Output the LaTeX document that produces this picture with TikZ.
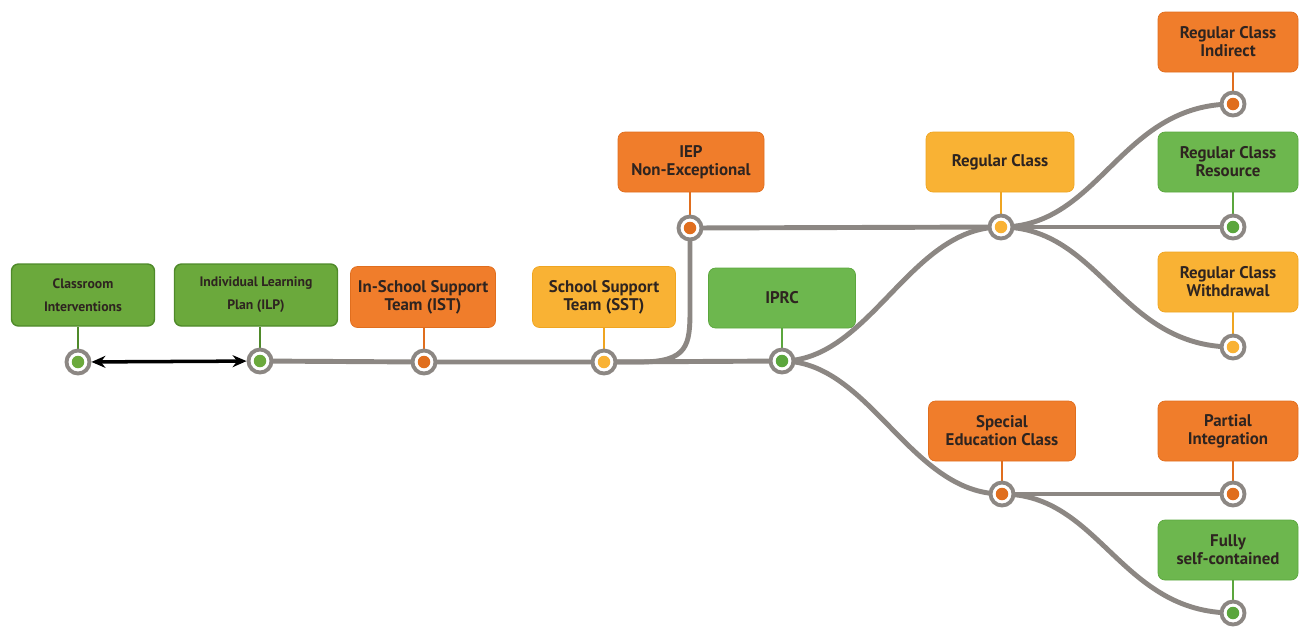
\documentclass[tikz,border=0pt]{standalone}
\usepackage{fontspec}
\setmainfont{PT Sans}
\usetikzlibrary{arrows.meta,backgrounds}
\definecolor{orng}{HTML}{F07D2B}
\definecolor{orngD}{HTML}{E06E1E}
\definecolor{yell}{HTML}{F9B234}
\definecolor{yellD}{HTML}{EFA521}
\definecolor{grn}{HTML}{6DB74E}
\definecolor{grnD}{HTML}{5BA63D}
\definecolor{grnA}{HTML}{6BA93C}
\definecolor{grnAD}{HTML}{4F8A2A}
\definecolor{track}{HTML}{8C8783}
\definecolor{txt}{HTML}{2E2420}
\tikzset{
  box/.style={rounded corners=0.14cm, text=txt, align=center, inner sep=0pt,
    font=\bfseries\fontsize{9.6}{10.2}\selectfont},
  smallbox/.style={box, fill=grnA, draw=grnAD, line width=0.8pt,
    font=\bfseries\fontsize{7.8}{13}\selectfont},
  obox/.style={box, fill=orng, draw=orngD, line width=0.4pt},
  ybox/.style={box, fill=yell, draw=yellD, line width=0.4pt},
  gbox/.style={box, fill=grn, draw=grnD, line width=0.4pt},
  ring/.style={circle, draw=track, line width=2.2pt, fill=white, minimum size=0.46cm, inner sep=0pt},
  dotin/.style={circle, minimum size=0.25cm, inner sep=0pt},
  trk/.style={draw=track, line width=2.8pt},
  stem/.style={line width=1.1pt},
}
\begin{document}
\begin{tikzpicture}[x=0.02cm, y=-0.02cm]
\useasboundingbox (0,0) rectangle (1300,627);
% boxes
\node[smallbox, minimum width=143*0.02cm, minimum height=62*0.02cm] (CI) at (83,295) {Classroom\\Interventions};
\node[smallbox, minimum width=163*0.02cm, minimum height=62*0.02cm] (ILP) at (256,295) {Individual Learning\\Plan (ILP)};
\node[obox, minimum width=145*0.02cm, minimum height=61*0.02cm] (IST) at (423,297) {In-School Support\\Team (IST)};
\node[ybox, minimum width=143*0.02cm, minimum height=61*0.02cm] (SST) at (604,297) {School Support\\Team (SST)};
\node[obox, minimum width=146*0.02cm, minimum height=60*0.02cm] (IEP) at (691,162) {IEP\\Non-Exceptional};
\node[gbox, minimum width=147*0.02cm, minimum height=60*0.02cm] (IPRC) at (782,298) {IPRC};
\node[ybox, minimum width=148*0.02cm, minimum height=60*0.02cm] (RC) at (1000,162) {Regular Class};
\node[obox, minimum width=140*0.02cm, minimum height=60*0.02cm] (RCI) at (1228,42) {Regular Class\\Indirect};
\node[gbox, minimum width=140*0.02cm, minimum height=60*0.02cm] (RCR) at (1228,162) {Regular Class\\Resource};
\node[ybox, minimum width=140*0.02cm, minimum height=60*0.02cm] (RCW) at (1228,282) {Regular Class\\Withdrawal};
\node[obox, minimum width=147*0.02cm, minimum height=60*0.02cm] (SEC) at (1002,431) {Special\\Education Class};
\node[obox, minimum width=140*0.02cm, minimum height=60*0.02cm] (PI) at (1228,431) {Partial\\Integration};
\node[gbox, minimum width=140*0.02cm, minimum height=60*0.02cm] (FSC) at (1228,550) {Fully\\self-contained};
% positions of stations
\coordinate (pCI) at (78,362);
\coordinate (pILP) at (260,361);
\coordinate (pIST) at (424,362);
\coordinate (pSST) at (604,362);
\coordinate (pIEP) at (690,228);
\coordinate (pIPRC) at (782,361);
\coordinate (pRC) at (1001,227);
\coordinate (pRCI) at (1233,104);
\coordinate (pRCR) at (1233,227);
\coordinate (pRCW) at (1233,347);
\coordinate (pSEC) at (1002,494);
\coordinate (pPI) at (1233,494);
\coordinate (pFSC) at (1233,613);
% tracks
\draw[trk] (pILP) -- (pIST) -- (pSST) -- (pIPRC);
\draw[trk] (pSST) -- (640,362) .. controls (688,362) and (690,345) .. (690,310) -- (pIEP);
\draw[trk] (pIEP) -- (pRC);
\draw[trk] (pIPRC) .. controls (870,361) and (910,227) .. (pRC);
\draw[trk] (pIPRC) .. controls (870,361) and (910,494) .. (pSEC);
\draw[trk] (pRC) .. controls (1100,227) and (1120,104) .. (pRCI);
\draw[trk] (pRC) -- (pRCR);
\draw[trk] (pRC) .. controls (1100,227) and (1120,347) .. (pRCW);
\draw[trk] (pSEC) -- (pPI);
\draw[trk] (pSEC) .. controls (1100,494) and (1120,613) .. (pFSC);
% stems
\draw[stem, grnAD] (pCI) -- (pCI |- CI.south);
\draw[stem, grnAD] (pILP) -- (pILP |- ILP.south);
\draw[stem, orngD] (pIST) -- (pIST |- IST.south);
\draw[stem, yellD] (pSST) -- (pSST |- SST.south);
\draw[stem, orngD] (pIEP) -- (pIEP |- IEP.south);
\draw[stem, grnD] (pIPRC) -- (pIPRC |- IPRC.south);
\draw[stem, yellD] (pRC) -- (pRC |- RC.south);
\draw[stem, orngD] (pRCI) -- (pRCI |- RCI.south);
\draw[stem, grnD] (pRCR) -- (pRCR |- RCR.south);
\draw[stem, yellD] (pRCW) -- (pRCW |- RCW.south);
\draw[stem, orngD] (pSEC) -- (pSEC |- SEC.south);
\draw[stem, orngD] (pPI) -- (pPI |- PI.south);
\draw[stem, grnD] (pFSC) -- (pFSC |- FSC.south);
% rings
\foreach \n/\c in {CI/grnA, ILP/grnA, IST/orngD, SST/yell, IEP/orngD, IPRC/grnD,
  RC/yell, RCI/orngD, RCR/grnD, RCW/yell, SEC/orngD, PI/orngD, FSC/grnD}{
  \node[ring] (r\n) at (p\n) {};
  \node[dotin, fill=\c] (i\n) at (p\n) {};
}
% arrow
\draw[line width=2pt, {Stealth[length=0.28cm,width=0.24cm]}-{Stealth[length=0.28cm,width=0.24cm]}] (rCI) -- (rILP);
\end{tikzpicture}
\end{document}
